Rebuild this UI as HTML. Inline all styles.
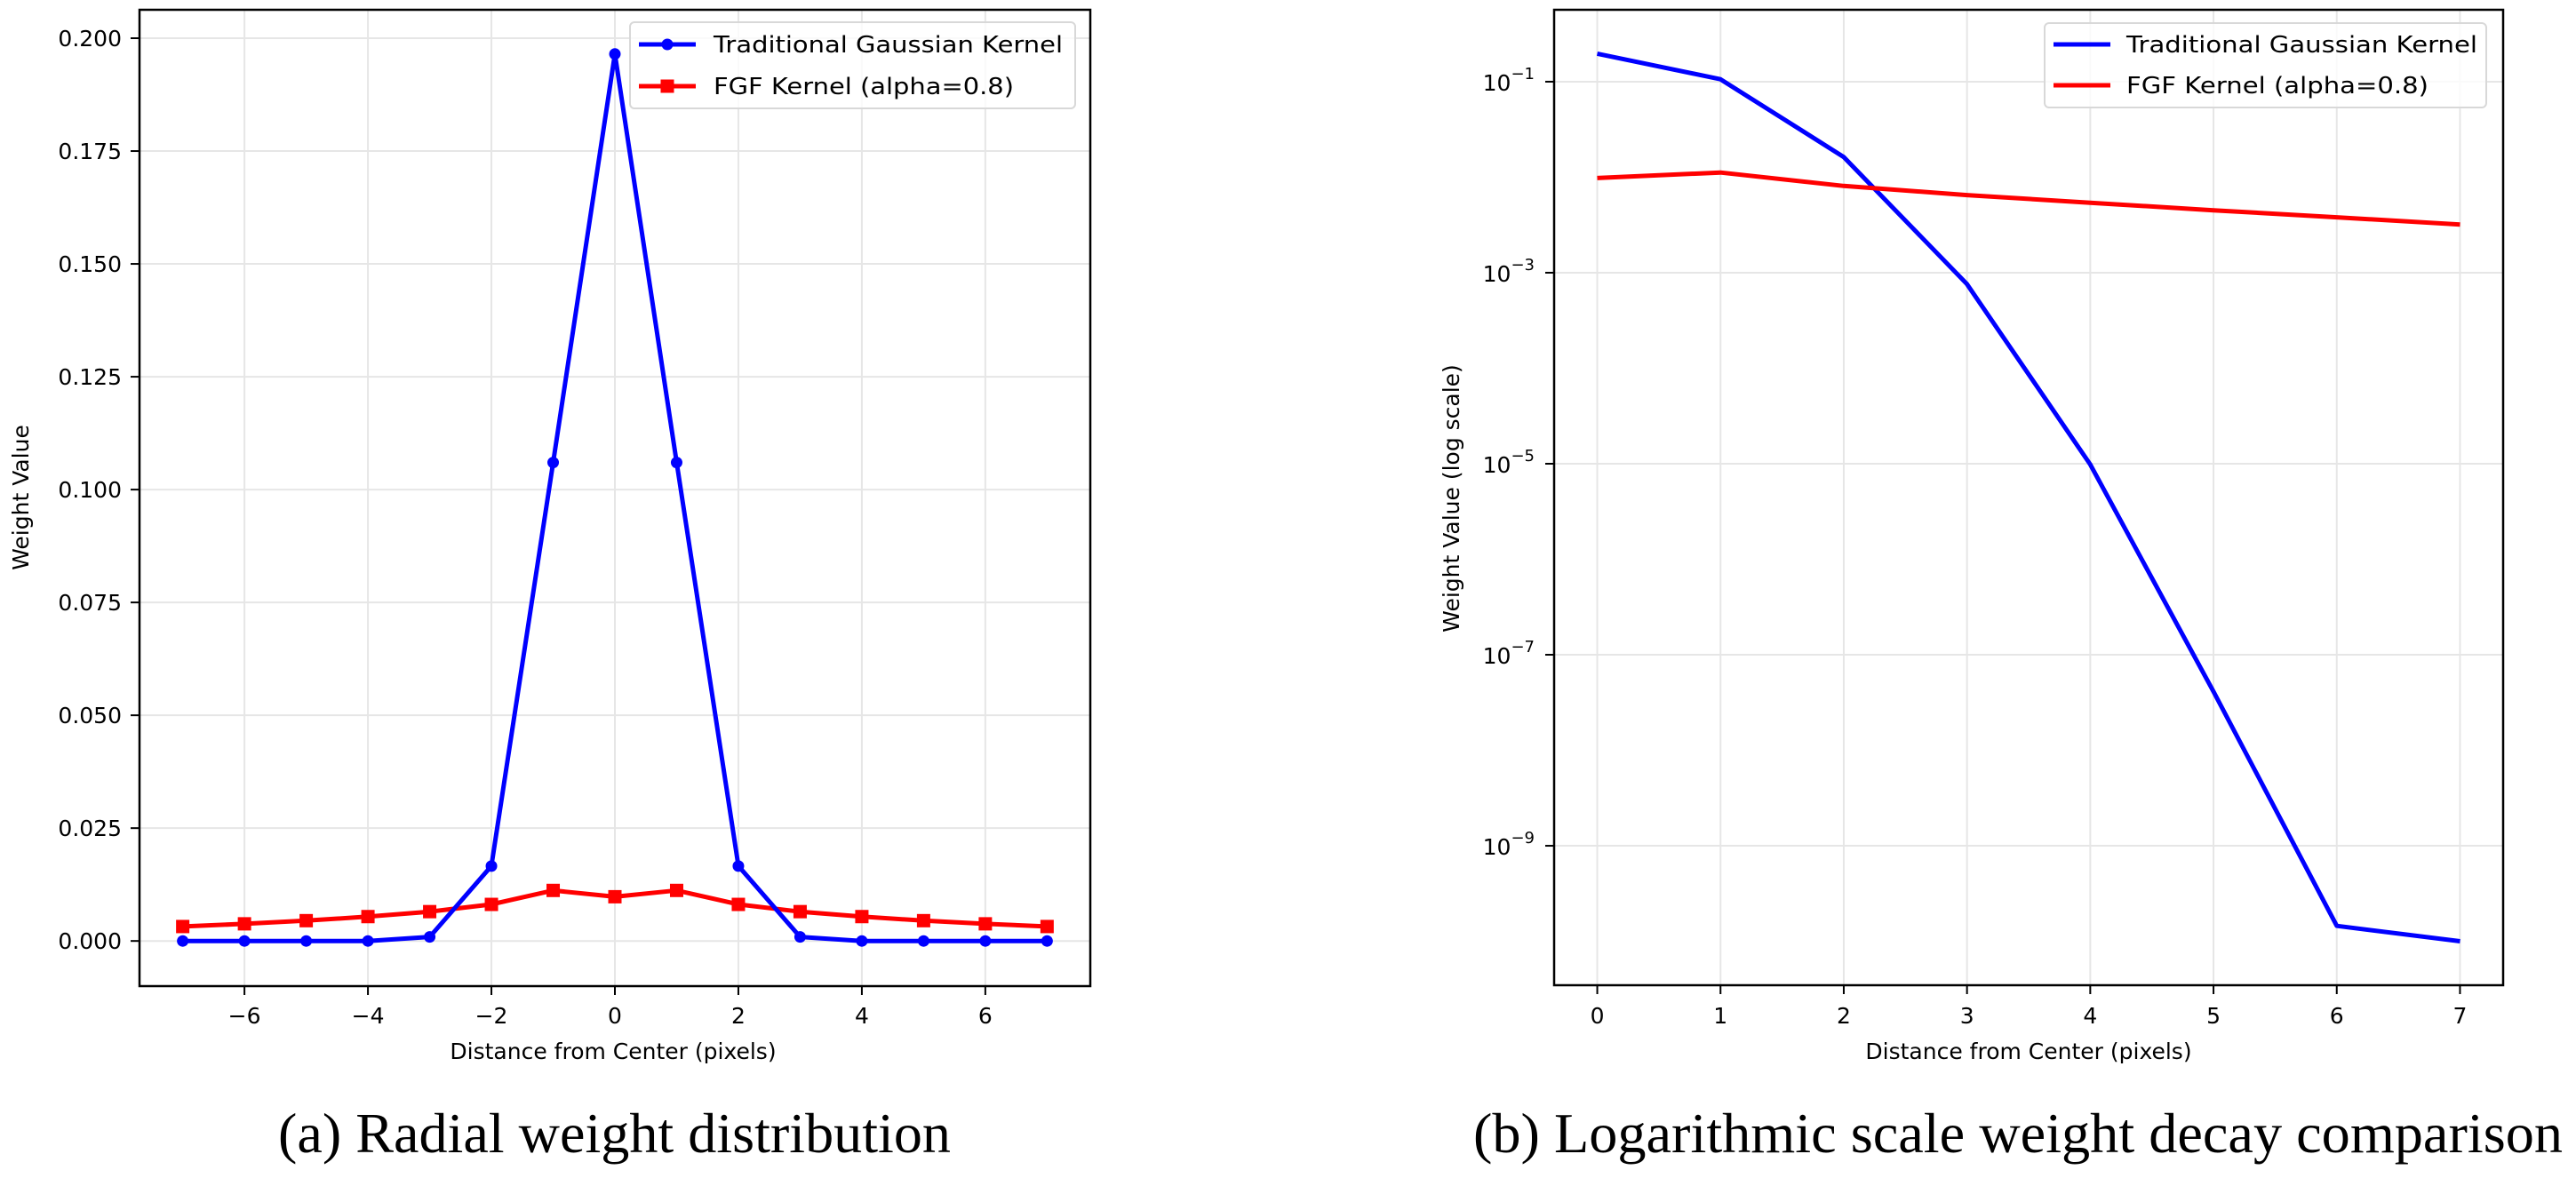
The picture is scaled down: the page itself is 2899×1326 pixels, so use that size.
<!DOCTYPE html>
<html><head><meta charset="utf-8"><style>
html,body{margin:0;padding:0;background:#fff;}
svg{display:block;}
text{font-family:"DejaVu Sans","Liberation Sans",sans-serif;fill:#000;}
.cap{font-family:"Liberation Serif",serif;}
</style></head><body>
<svg id="fig" width="2899" height="1326" viewBox="0 0 2899 1326" xmlns="http://www.w3.org/2000/svg"></svg>
<script>
// Panel (a) data
const xA = [-7,-6,-5,-4,-3,-2,-1,0,1,2,3,4,5,6,7];
const gaussA = [0,0,0,0,0.0009,0.0166,0.106,0.1965,0.106,0.0166,0.0009,0,0,0,0];
const fgfA = [0.0032,0.0038,0.0045,0.0054,0.0065,0.0081,0.0112,0.0098,0.0112,0.0081,0.0065,0.0054,0.0045,0.0038,0.0032];
const yTicksA = [0,0.025,0.05,0.075,0.1,0.125,0.15,0.175,0.2];
const yTickLabelsA = ["0.000","0.025","0.050","0.075","0.100","0.125","0.150","0.175","0.200"];
const xTicksA = [-6,-4,-2,0,2,4,6];
const xTickLabelsA = ["\u22126","\u22124","\u22122","0","2","4","6"];
// Panel (b) data
const xB = [0,1,2,3,4,5,6,7];
const gaussB = [0.1965,0.106,0.0163,7.6e-4,9.8e-6,4.1e-8,1.45e-10,1.0e-10];
const fgfB = [0.0098,0.0112,0.0081,0.0065,0.0054,0.0045,0.0038,0.0032];
const yTickExpB = [-1,-3,-5,-7,-9];
const xTicksB = [0,1,2,3,4,5,6,7];

const NS="http://www.w3.org/2000/svg";
const svg=document.getElementById('fig');
function el(tag,attrs,parent,txt){const e=document.createElementNS(NS,tag);for(const k in attrs)e.setAttribute(k,attrs[k]);if(txt!==undefined)e.textContent=txt;(parent||svg).appendChild(e);return e;}

const A={l:157,r:1227,t:11,b:1110,xmin:-7.7,xmax:7.7,ymin:-0.0100,ymax:0.2063};
const B={l:1749,r:2817,t:11,b:1109,xmin:-0.35,xmax:7.35,ymin:-10.46,ymax:-0.247};
const sxA=v=>A.l+(v-A.xmin)/(A.xmax-A.xmin)*(A.r-A.l);
const syA=v=>A.b-(v-A.ymin)/(A.ymax-A.ymin)*(A.b-A.t);
const sxB=v=>B.l+(v-B.xmin)/(B.xmax-B.xmin)*(B.r-B.l);
const syB=v=>B.b-(Math.log10(v)-B.ymin)/(B.ymax-B.ymin)*(B.b-B.t);
const syBexp=e=>B.b-(e-B.ymin)/(B.ymax-B.ymin)*(B.b-B.t);

// ---- Panel A ----
const gA=el('g',{});


xTicksA.forEach((t,i)=>{
  const x=sxA(t);
  const gl=el('line',{x1:x,x2:x,y1:A.t,y2:A.b,stroke:'#e6e6e6','stroke-width':2},gA);
  
  
  el('line',{x1:x,x2:x,y1:A.b,y2:A.b+10,stroke:'#000','stroke-width':2},gA);
  const tl=el('text',{x:x,y:A.b+42,'font-size':25,'text-anchor':'middle'},gA,xTickLabelsA[i]);
  
  
});
yTicksA.forEach((t,i)=>{
  const y=syA(t);
  const gl=el('line',{x1:A.l,x2:A.r,y1:y,y2:y,stroke:'#e6e6e6','stroke-width':2},gA);
  
  
  el('line',{x1:A.l-10,x2:A.l,y1:y,y2:y,stroke:'#000','stroke-width':2},gA);
  const tl=el('text',{x:A.l-20,y:y+9,'font-size':25,'text-anchor':'end'},gA,yTickLabelsA[i]);
  
  
});
function seriesA(vals,color,marker,name){
  const pts=xA.map((x,i)=>sxA(x).toFixed(1)+','+syA(vals[i]).toFixed(1)).join(' ');
  const pl=el('polyline',{points:pts,fill:'none',stroke:color,'stroke-width':5,'stroke-linejoin':'round'},gA);
  
  
  xA.forEach((x,i)=>{
    let m;
    if(marker==='o'){m=el('circle',{cx:sxA(x),cy:syA(vals[i]),r:6.5,fill:color},gA);}
    else{m=el('rect',{x:sxA(x)-7.5,y:syA(vals[i])-7.5,width:15,height:15,fill:color},gA);}
    
    
  });
}
seriesA(fgfA,'#ff0000','s','fgf');
seriesA(gaussA,'#0000ff','o','gaussian');
const frA=el('rect',{x:A.l,y:A.t,width:A.r-A.l,height:A.b-A.t,fill:'none',stroke:'#000','stroke-width':2.5},gA);


const ylA=el('text',{x:0,y:0,'font-size':25,'text-anchor':'middle',transform:'translate(32,560) rotate(-90)'},gA,'Weight Value');


const xlA=el('text',{x:690,y:1192,'font-size':25,'text-anchor':'middle'},gA,'Distance from Center (pixels)');


const lgA=el('g',{},gA);


el('rect',{x:709,y:25,width:501,height:97,rx:5,fill:'#fff','fill-opacity':0.8,stroke:'#d8d8d8','stroke-width':2},lgA);
el('line',{x1:719,x2:783,y1:50,y2:50,stroke:'#0000ff','stroke-width':5},lgA);
el('circle',{cx:751,cy:50,r:6.5,fill:'#0000ff'},lgA);
const le1=el('text',{x:803,y:59,'font-size':26,textLength:393,lengthAdjust:'spacingAndGlyphs'},lgA,'Traditional Gaussian Kernel');


el('line',{x1:719,x2:783,y1:97,y2:97,stroke:'#ff0000','stroke-width':5},lgA);
el('rect',{x:743.5,y:89.5,width:15,height:15,fill:'#ff0000'},lgA);
const le2=el('text',{x:803,y:106,'font-size':26,textLength:338,lengthAdjust:'spacingAndGlyphs'},lgA,'FGF Kernel (alpha=0.8)');


const capA=el('text',{x:313,y:1297,'font-size':64,'textLength':757,'lengthAdjust':'spacingAndGlyphs',class:'cap'},gA,'(a) Radial weight distribution');



// ---- Panel B ----
const gB=el('g',{});


xTicksB.forEach(t=>{
  const x=sxB(t);
  const gl=el('line',{x1:x,x2:x,y1:B.t,y2:B.b,stroke:'#e6e6e6','stroke-width':2},gB);
  
  
  el('line',{x1:x,x2:x,y1:B.b,y2:B.b+10,stroke:'#000','stroke-width':2},gB);
  const tl=el('text',{x:x,y:B.b+43,'font-size':25,'text-anchor':'middle'},gB,String(t));
  
  
});
yTickExpB.forEach(e=>{
  const y=syBexp(e);
  const gl=el('line',{x1:B.l,x2:B.r,y1:y,y2:y,stroke:'#e6e6e6','stroke-width':2},gB);
  
  
  el('line',{x1:B.l-10,x2:B.l,y1:y,y2:y,stroke:'#000','stroke-width':2},gB);
  const tl=el('text',{x:B.l-22,y:y+10,'font-size':25,'text-anchor':'end'},gB);
  
  
  el('tspan',{},tl,'10');
  el('tspan',{dy:-13,'font-size':18},tl,'\u2212'+Math.abs(e));
});
function seriesB(vals,color,name){
  const pts=xB.map((x,i)=>sxB(x).toFixed(1)+','+syB(vals[i]).toFixed(1)).join(' ');
  const pl=el('polyline',{points:pts,fill:'none',stroke:color,'stroke-width':5,'stroke-linejoin':'round'},gB);
  
  
}
seriesB(gaussB,'#0000ff','gaussian');
seriesB(fgfB,'#ff0000','fgf');
const frB=el('rect',{x:B.l,y:B.t,width:B.r-B.l,height:B.b-B.t,fill:'none',stroke:'#000','stroke-width':2.5},gB);


const ylB=el('text',{x:0,y:0,'font-size':25,'text-anchor':'middle',transform:'translate(1642,561) rotate(-90)'},gB,'Weight Value (log scale)');


const xlB=el('text',{x:2283,y:1192,'font-size':25,'text-anchor':'middle'},gB,'Distance from Center (pixels)');


const lgB=el('g',{},gB);


el('rect',{x:2301,y:26,width:497,height:95,rx:5,fill:'#fff','fill-opacity':0.8,stroke:'#d8d8d8','stroke-width':2},lgB);
el('line',{x1:2311,x2:2375,y1:50,y2:50,stroke:'#0000ff','stroke-width':5},lgB);
const lb1=el('text',{x:2393,y:59,'font-size':26,textLength:395,lengthAdjust:'spacingAndGlyphs'},lgB,'Traditional Gaussian Kernel');


el('line',{x1:2311,x2:2375,y1:96,y2:96,stroke:'#ff0000','stroke-width':5},lgB);
const lb2=el('text',{x:2393,y:105,'font-size':26,textLength:340,lengthAdjust:'spacingAndGlyphs'},lgB,'FGF Kernel (alpha=0.8)');


const capB=el('text',{x:1658,y:1297,'font-size':64,'textLength':1226,'lengthAdjust':'spacingAndGlyphs',class:'cap'},gB,'(b) Logarithmic scale weight decay comparison');


</script>
</body></html>
